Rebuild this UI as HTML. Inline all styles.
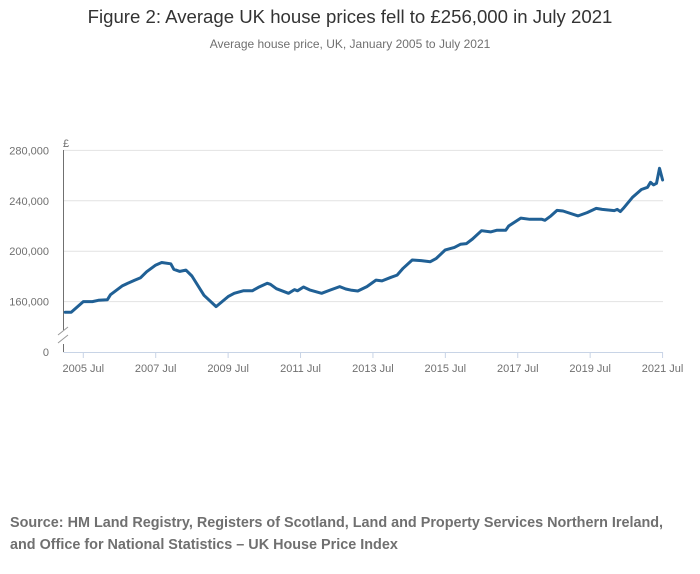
<!DOCTYPE html>
<html><head><meta charset="utf-8"><style>
body{margin:0;width:700px;height:574px;background:#fff;font-family:"Liberation Sans",sans-serif;overflow:hidden}
#title{position:absolute;left:0;width:700px;top:6px;text-align:center;font-size:18.6px;color:#333}
#sub{position:absolute;left:0;width:700px;top:37px;text-align:center;font-size:12px;color:#707070}
#src{position:absolute;left:10px;top:512px;font-size:14.4px;font-weight:bold;color:#707070;line-height:22px}
svg{position:absolute;left:0;top:0}
</style></head><body>
<div id="title">Figure 2: Average UK house prices fell to £256,000 in July 2021</div>
<div id="sub">Average house price, UK, January 2005 to July 2021</div>
<svg id="chart" width="700" height="574"></svg>
<div id="src">Source: HM Land Registry, Registers of Scotland, Land and Property Services Northern Ireland,<br>and Office for National Statistics – UK House Price Index</div>
<script>
// months since Jan 2005
const months=[0,2,6,9,11,14,15,19,23,25,27,30,32,35,36,38,40,42,46,50,54,56,59,62,64,67,68,70,74,76,77,79,81,85,88,91,93,95,97,100,103,105,108,110,112,115,118,121,123,126,129,131,133,135,138,141,143,146,147,151,154,158,159,161,163,165,170,173,176,178,182,183,184,185,188,191,193,194,195,196,197,198];
const prices=[151500,151500,160000,160000,161000,161500,165500,172600,177000,179000,183700,189000,191000,190000,185600,184000,185000,180300,165000,156000,164000,166600,168600,168600,171300,174500,173700,170200,166600,169500,168600,171600,169300,166600,169300,171900,170000,169000,168400,171900,177100,176400,179300,181000,186400,193000,192500,191700,194300,201000,203000,205500,206000,209700,216300,215300,216600,216600,220000,226300,225300,225300,224500,228000,232400,231900,228000,230600,234000,233200,232200,233200,231400,234000,242700,249000,250700,254700,252600,253900,265800,256500];
const yTicks=[280000,240000,200000,160000];
const xTickLabels=["2005 Jul","2007 Jul","2009 Jul","2011 Jul","2013 Jul","2015 Jul","2017 Jul","2019 Jul","2021 Jul"];
const xTickMonths=[6,30,54,78,102,126,150,174,198];
const NS="http://www.w3.org/2000/svg",svg=document.getElementById('chart');
const X=m=>65.2+m*3.017, Y=v=>352-(v-120000)/40000*50.4;
function mk(t,a,p){const e=document.createElementNS(NS,t);for(const k in a)e.setAttribute(k,a[k]);(p||svg).appendChild(e);return e;}
yTicks.forEach(v=>{
 const g=mk('line',{x1:63.5,x2:663,y1:Y(v),y2:Y(v),stroke:'#e2e2e2','stroke-width':1});
 
 
 const t=mk('text',{x:49,y:Y(v)+4,'text-anchor':'end','font-size':11,fill:'#707070','font-family':'Liberation Sans'});
 t.textContent=v.toLocaleString('en-GB');
 
 
});
const z=mk('text',{x:49,y:356,'text-anchor':'end','font-size':11,fill:'#707070'});z.textContent='0';


const cur=mk('text',{x:63,y:147,'font-size':11,fill:'#707070'});cur.textContent='£';


const ya=mk('path',{d:'M63.5 150V330M63.5 344V352',stroke:'#707070','stroke-width':1,fill:'none'});


const br=mk('path',{d:'M58 335L68 327M58 343L68 335',stroke:'#999','stroke-width':1,fill:'none'});


const xa=mk('line',{x1:63.5,x2:663,y1:352.5,y2:352.5,stroke:'#c8d4e6','stroke-width':1});


xTickMonths.forEach((m,i)=>{
 const tk=mk('line',{x1:X(m),x2:X(m),y1:352,y2:358,stroke:'#c8d4e6'});
 
 
 const t=mk('text',{x:X(m),y:372,'text-anchor':'middle','font-size':11,fill:'#707070'});
 t.textContent=xTickLabels[i];
 
 
});
const ln=mk('path',{d:months.map((m,i)=>(i?'L':'M')+X(m).toFixed(1)+' '+Y(prices[i]).toFixed(1)).join(''),stroke:'#206095','stroke-width':3,fill:'none','stroke-linejoin':'round','stroke-linecap':'round'});


</script>
</body></html>
